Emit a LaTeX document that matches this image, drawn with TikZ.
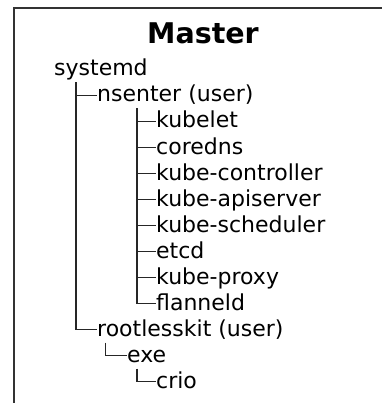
\documentclass[tikz,border=0pt]{standalone}
\usepackage{fontspec}
\setmainfont{DejaVu Sans}
\usetikzlibrary{calc}
\begin{document}
\begin{tikzpicture}[x=1pt,y=-1pt,
  item/.style={anchor=base west, inner sep=0pt, font=\fontsize{22}{26}\selectfont},
  heading/.style={anchor=base, inner sep=0pt, font=\fontsize{28.5}{32}\selectfont\bfseries},
  branch/.style={line width=1.6pt, draw=black!85},
  frameline/.style={line width=2pt, draw=black!80}]
\useasboundingbox (0,0) rectangle (382,403);

% open frame: left and top edges
\draw[frameline] (13.5,403) -- (13.5,8) -- (382,8);

\node[heading] (master) at (203,44) {Master};

% process tree
\node[item] (systemd)     at (54,76)  {systemd};
\node[item] (nsenter)     at (97,102) {nsenter (user)};
\node[item] (kubelet)     at (156,128) {kubelet};
\node[item] (coredns)     at (156,154) {coredns};
\node[item] (controller)  at (156,180) {kube-controller};
\node[item] (apiserver)   at (156,206) {kube-apiserver};
\node[item] (scheduler)   at (156,232) {kube-scheduler};
\node[item] (etcd)        at (156,258) {etcd};
\node[item] (proxy)       at (156,284) {kube-proxy};
\node[item] (flanneld)    at (156,310) {flanneld};
\node[item] (rootlesskit) at (97,336) {rootlesskit (user)};
\node[item] (exe)         at (127,362) {exe};
\node[item] (crio)        at (156,388) {crio};

% attach points of each child
\foreach \n in {nsenter,kubelet,coredns,controller,apiserver,scheduler,etcd,proxy,flanneld,rootlesskit,exe,crio}
  \coordinate (\n-t) at ([xshift=-0.5pt,yshift=6.5pt]\n.base west);

% tops of the vertical rails
\coordinate (rail1) at ([xshift=22pt,yshift=-6.5pt]systemd.base west);
\coordinate (rail2) at ([xshift=40pt,yshift=-6.5pt]nsenter.base west);
\coordinate (rail3) at ([xshift=8.5pt,yshift=-6.5pt]rootlesskit.base west);
\coordinate (rail4) at ([xshift=10pt,yshift=-6.5pt]exe.base west);

% systemd children
\draw[branch] (rail1) |- (rootlesskit-t);
\draw[branch] (rail1 |- nsenter-t) -- (nsenter-t);

% nsenter children
\draw[branch] (rail2) |- (flanneld-t);
\foreach \n in {kubelet,coredns,controller,apiserver,scheduler,etcd,proxy}
  \draw[branch] (rail2 |- \n-t) -- (\n-t);

% rootlesskit -> exe -> crio
\draw[branch] (rail3) |- (exe-t);
\draw[branch] (rail4) |- (crio-t);
\end{tikzpicture}
\end{document}
